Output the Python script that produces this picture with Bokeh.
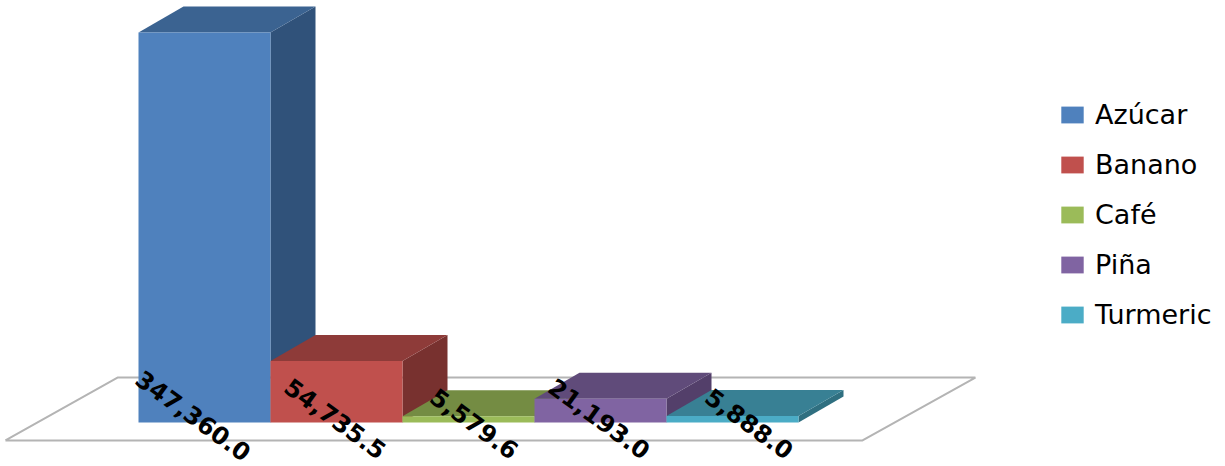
from bokeh.plotting import figure
from bokeh.models import ColumnDataSource, Legend, LegendItem, Range1d
from bokeh.core.properties import value
from bokeh.embed import file_html
from bokeh.resources import INLINE

categories = ["Azúcar", "Banano", "Café", "Piña", "Turmeric"]
values = [347360.0, 54735.5, 5579.6, 21193.0, 5888.0]
labels = ["347,360.0", "54,735.5", "5,579.6", "21,193.0", "5,888.0"]

front_colors = ["#4F81BD", "#C0504D", "#9BBB59", "#8064A2", "#4BACC6"]
top_colors = ["#3B6391", "#8E3B39", "#748C43", "#604B7A", "#388094"]
side_colors = ["#30527A", "#78312F", "#62763A", "#533F6A", "#2F6F80"]

W, H = 1225, 466
PX_PER_CAT = 132.0
PX_PER_UNIT = 390.0 / 347360.0
LEFT_PX, BASE_PX = 138.0, 422.0
DX = 45.0 / PX_PER_CAT          # bar depth, category units
DY = 26.0 / PX_PER_UNIT         # bar depth, value units
BAR = 1.0                       # bar width, category units

FLOOR_X = [-1.008, -0.159, 6.34, 5.485, -1.008]
FLOOR_Y = [-16000, 40000, 40000, -16000, -16000]

LABEL_DX = [-11, -1, 6, -1, 17]
LABEL_DY = [-7, -4, 1, -4, 1]

p = figure(width=W, height=H, output_backend="svg", toolbar_location=None,
           x_axis_location=None, y_axis_location=None, min_border=0,
           x_range=Range1d(-LEFT_PX / PX_PER_CAT, (W - LEFT_PX) / PX_PER_CAT),
           y_range=Range1d(-(H - BASE_PX) / PX_PER_UNIT, BASE_PX / PX_PER_UNIT),
           outline_line_color=None, background_fill_color="white")
p.grid.visible = False

p.line(FLOOR_X, FLOOR_Y, line_color="#b4b4b4", line_width=2)

items = []
for i, (cat, v) in enumerate(zip(categories, values)):
    x0, x1 = float(i), i + BAR
    p.patch([x1, x1 + DX, x1 + DX, x1], [0, DY, v + DY, v],
            fill_color=side_colors[i], line_color=None)
    p.patch([x0, x1, x1 + DX, x0 + DX], [v, v, v + DY, v + DY],
            fill_color=top_colors[i], line_color=None)
    r = p.quad(left=x0, right=x1, bottom=0, top=v,
               fill_color=front_colors[i], line_color=None)
    items.append(LegendItem(label=cat, renderers=[r]))

src = ColumnDataSource(dict(
    x=[i + BAR / 2 for i in range(len(values))],
    y=[0.0] * len(values),
    t=labels, dx=LABEL_DX, dy=LABEL_DY))
p.text("x", "y", text="t", source=src, x_offset="dx", y_offset="dy",
       angle=-36, angle_units="deg", text_align="center", text_baseline="middle",
       text_font=value("DejaVu Sans"), text_font_size="24px",
       text_font_style="bold", text_color="black")

legend = Legend(items=items, location=(1058, 466 - 330), orientation="vertical",
                background_fill_alpha=0, border_line_color=None,
                glyph_width=28, glyph_height=21, label_height=17, spacing=19,
                label_standoff=9, margin=0, padding=8,
                label_text_font="DejaVu Sans", label_text_font_size="27px",
                label_text_color="black", label_text_baseline="middle")
p.add_layout(legend, "center")

open("out.html", "w").write(file_html(p, INLINE))
